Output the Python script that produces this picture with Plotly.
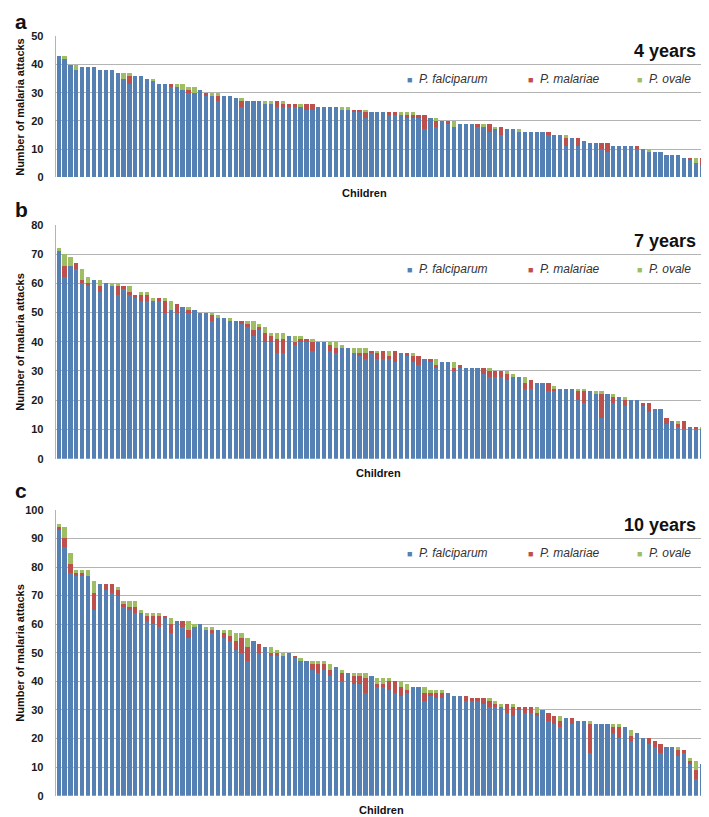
"""Stacked bars of malaria attacks per child at 4, 7 and 10 years, by species."""
import plotly.graph_objects as go

SPECIES = ["P. falciparum", "P. malariae", "P. ovale"]
COLORS = ["#5580b4", "#bd504d", "#9fbd62"]

# panel a: 4 years
falc_4y = [43, 42, 40, 38, 39, 39, 39, 38, 38, 38, 37, 35, 33, 36, 36, 35, 34, 33, 33, 32,
           32, 31, 30, 30, 31, 29, 29, 27, 29, 29, 28, 25, 27, 27, 27, 26, 26, 25, 25, 25,
           25, 25, 24, 24, 25, 25, 25, 25, 24, 24, 23, 23, 21, 23, 23, 23, 22, 22, 22, 21,
           21, 21, 17, 21, 18, 20, 19, 18, 19, 19, 19, 18, 18, 16, 17, 15, 17, 17, 16, 16,
           16, 16, 16, 15, 15, 15, 11, 14, 11, 13, 12, 12, 10, 9, 11, 11, 11, 11, 10, 10,
           9, 9, 9, 8, 8, 8, 7, 6, 5, 4, 6]
mal_4y = [0, 0, 0, 0, 0, 0, 0, 0, 0, 0, 0, 0, 3, 0, 0, 0, 0, 0, 0, 1,
          0, 0, 1, 0, 0, 1, 0, 2, 0, 0, 0, 2, 0, 0, 0, 0, 0, 2, 1, 1,
          1, 0, 2, 2, 0, 0, 0, 0, 0, 0, 1, 1, 2, 0, 0, 0, 1, 1, 0, 1,
          1, 1, 5, 0, 2, 0, 1, 0, 0, 0, 0, 1, 0, 3, 0, 3, 0, 0, 0, 0,
          0, 0, 0, 1, 0, 0, 3, 0, 3, 0, 0, 0, 2, 3, 0, 0, 0, 0, 1, 0,
          0, 0, 0, 0, 0, 0, 0, 1, 0, 3, 0]
ova_4y = [0, 1, 0, 2, 0, 0, 0, 0, 0, 0, 0, 2, 1, 0, 0, 0, 1, 0, 0, 0,
          1, 2, 1, 2, 0, 0, 1, 1, 0, 0, 0, 1, 0, 0, 0, 1, 1, 0, 1, 0,
          0, 1, 0, 0, 0, 0, 0, 0, 1, 1, 0, 0, 1, 0, 0, 0, 0, 0, 1, 1,
          1, 0, 0, 0, 1, 0, 0, 2, 0, 0, 0, 0, 1, 0, 1, 0, 0, 0, 1, 0,
          0, 0, 0, 0, 0, 0, 1, 0, 0, 0, 0, 0, 0, 0, 0, 0, 0, 0, 0, 0,
          1, 0, 0, 0, 0, 0, 0, 0, 2, 0, 0]

# panel b: 7 years
falc_7y = [71, 62, 66, 65, 60, 59, 61, 57, 60, 59, 56, 58, 56, 55, 54, 54, 54, 54, 50, 51,
           50, 52, 50, 51, 50, 50, 47, 48, 48, 47, 47, 46, 45, 42, 44, 40, 40, 36, 36, 42,
           39, 40, 40, 37, 40, 40, 37, 36, 38, 38, 36, 35, 34, 36, 34, 34, 34, 33, 36, 35,
           33, 32, 34, 33, 31, 33, 33, 30, 31, 31, 31, 31, 29, 28, 28, 28, 27, 28, 28, 24,
           24, 26, 26, 23, 23, 24, 24, 24, 20, 19, 23, 22, 14, 22, 19, 21, 18, 20, 20, 18,
           16, 17, 17, 12, 13, 11, 10, 11, 10, 10, 5]
mal_7y = [0, 4, 0, 2, 1, 1, 0, 2, 0, 0, 3, 1, 1, 1, 2, 2, 0, 1, 4, 0,
          3, 0, 1, 0, 0, 0, 2, 0, 0, 0, 0, 1, 1, 2, 1, 3, 2, 5, 5, 0,
          1, 1, 1, 3, 0, 0, 2, 2, 0, 0, 0, 1, 2, 1, 2, 3, 1, 4, 0, 1,
          2, 3, 0, 1, 1, 0, 0, 1, 1, 0, 0, 0, 2, 2, 2, 2, 2, 0, 0, 2,
          3, 0, 0, 3, 1, 0, 0, 0, 3, 4, 0, 0, 8, 0, 2, 0, 2, 0, 0, 1,
          3, 0, 0, 2, 0, 1, 3, 0, 1, 0, 0]
ova_7y = [1, 4, 3, 0, 4, 2, 0, 2, 0, 1, 1, 0, 2, 0, 1, 1, 1, 0, 1, 3,
          0, 0, 1, 0, 0, 0, 1, 1, 0, 1, 0, 0, 1, 3, 1, 2, 1, 2, 2, 0,
          2, 1, 0, 1, 0, 0, 1, 2, 1, 0, 2, 2, 2, 0, 1, 0, 2, 0, 0, 0,
          1, 0, 0, 0, 2, 0, 0, 2, 0, 0, 0, 0, 0, 1, 0, 0, 1, 1, 0, 2,
          0, 0, 0, 0, 1, 0, 0, 0, 1, 1, 0, 1, 1, 0, 1, 0, 1, 0, 0, 0,
          0, 0, 0, 0, 0, 1, 0, 0, 0, 1, 2]

# panel c: 10 years
falc_10y = [93, 87, 78, 77, 77, 77, 65, 74, 72, 71, 70, 66, 65, 64, 64, 61, 60, 59, 62, 57,
            61, 59, 55, 59, 60, 58, 57, 58, 55, 54, 51, 50, 47, 54, 50, 52, 49, 49, 49, 50,
            48, 47, 47, 44, 43, 44, 42, 45, 40, 43, 39, 39, 36, 42, 38, 38, 37, 36, 35, 36,
            38, 38, 33, 35, 34, 34, 36, 35, 35, 33, 33, 33, 32, 31, 31, 31, 29, 28, 30, 29,
            29, 28, 30, 26, 25, 24, 27, 25, 26, 26, 15, 25, 25, 25, 22, 20, 24, 19, 22, 20,
            18, 17, 15, 17, 17, 14, 15, 11, 6, 11, 10]
mal_10y = [1, 3, 3, 1, 1, 0, 6, 0, 2, 3, 2, 1, 1, 2, 0, 2, 3, 4, 1, 3,
           0, 2, 3, 0, 0, 0, 1, 0, 2, 2, 3, 5, 5, 0, 3, 0, 1, 1, 0, 0,
           1, 0, 0, 2, 3, 2, 2, 0, 3, 0, 3, 3, 5, 0, 1, 1, 3, 4, 3, 1,
           0, 0, 3, 1, 2, 2, 0, 0, 0, 2, 1, 1, 2, 2, 1, 0, 3, 3, 1, 2,
           2, 1, 0, 3, 3, 2, 0, 2, 0, 0, 10, 0, 0, 0, 2, 4, 0, 2, 0, 0,
           2, 2, 3, 0, 0, 2, 1, 1, 3, 0, 0]
ova_10y = [1, 4, 4, 1, 1, 2, 4, 0, 0, 0, 1, 1, 2, 2, 1, 1, 1, 1, 0, 2,
           0, 0, 3, 1, 0, 1, 1, 0, 1, 2, 3, 2, 3, 0, 0, 0, 2, 1, 1, 0,
           0, 1, 0, 1, 1, 1, 2, 0, 1, 0, 1, 1, 2, 0, 2, 2, 1, 0, 2, 2,
           0, 0, 2, 1, 1, 1, 0, 0, 0, 0, 0, 0, 0, 1, 1, 1, 0, 1, 0, 0,
           0, 2, 0, 0, 0, 2, 0, 0, 0, 0, 1, 0, 0, 0, 1, 1, 0, 2, 0, 0,
           0, 0, 0, 0, 0, 1, 0, 1, 3, 0, 1]

PANELS = [
    ("a", "4 years", [falc_4y, mal_4y, ova_4y], 50),
    ("b", "7 years", [falc_7y, mal_7y, ova_7y], 80),
    ("c", "10 years", [falc_10y, mal_10y, ova_10y], 100),
]

W, H = 709, 817
FONT = "Liberation Sans, Arial, sans-serif"
X0, X1 = 47.7, 702.7
# top/bottom pixel rows of each plot area
ROWS = [(22.7, 165.7), (214.0, 451.3), (503.3, 793.3)]
# pixel rows of the panel letter, year label, legend and "Children" label
LETTER_Y = [8, 198, 484]
YEAR_Y = [38, 230, 519]
LEGEND_Y = [66, 259, 547]
CHILD_Y = [182, 466, 808]
CHILD_X = [356, 370, 374]
LEGEND_X = [397, 518, 627]


def px(x):
    return x / W


def py(y):
    return 1 - y / H


fig = go.Figure()
annotations = []
for i, (letter, label, series, ymax) in enumerate(PANELS):
    n = i + 1
    sfx = "" if n == 1 else str(n)
    children = list(range(1, len(series[0]) + 1))
    for name, vals, color in zip(SPECIES, series, COLORS):
        fig.add_trace(go.Bar(
            x=children, y=vals, name=name, marker_color=color,
            marker_line_width=0, showlegend=False,
            xaxis="x" + sfx, yaxis="y" + sfx,
        ))
    top, bot = ROWS[i]
    fig.layout["xaxis" + sfx] = dict(
        domain=[px(X0), px(X1)], range=[0.5, len(children) + 0.5],
        showticklabels=False, showgrid=False, zeroline=False, anchor="y" + sfx,
    )
    fig.layout["yaxis" + sfx] = dict(
        domain=[py(bot), py(top)], range=[0, ymax], dtick=10,
        showgrid=True, gridcolor="#b4b4b4", gridwidth=1, zeroline=False,
        showline=True, linecolor="#b4b4b4", linewidth=1,
        ticks="", ticklabelstandoff=9, anchor="x" + sfx,
        tickfont=dict(family=FONT, size=11, color="#1a1a1a", weight="bold"),
    )
    annotations += [
        dict(text=f"<b>{letter}</b>", x=px(13), y=py(LETTER_Y[i]), font=dict(size=21)),
        dict(text=f"<b>{label}</b>", x=px(690), y=py(YEAR_Y[i]), xanchor="right",
             font=dict(size=18)),
        dict(text="<b>Children</b>", x=px(CHILD_X[i]), y=py(CHILD_Y[i]), font=dict(size=11)),
        dict(text="<b>Number of malaria attacks</b>", x=px(12), y=py((top + bot) / 2),
             textangle=-90, font=dict(size=11)),
    ]
    for name, color, lx in zip(SPECIES, COLORS, LEGEND_X):
        annotations.append(dict(
            text=f"<span style='color:{color};font-size:9px'>■</span>  <i>{name}</i>",
            x=px(lx), y=py(LEGEND_Y[i]), xanchor="left", font=dict(size=12, color="#333333"),
        ))

for a in annotations:
    a.setdefault("xref", "paper")
    a.setdefault("yref", "paper")
    a.setdefault("showarrow", False)
    a.setdefault("yanchor", "middle")
    a.setdefault("xanchor", "center")
    a["font"].setdefault("color", "#111111")
    a["font"]["family"] = FONT

fig.update_layout(
    width=W, height=H, barmode="stack", bargap=0.28,
    margin=dict(l=0, r=0, t=0, b=0),
    paper_bgcolor="white", plot_bgcolor="white",
    annotations=annotations,
)
fig.write_html("out.html")
